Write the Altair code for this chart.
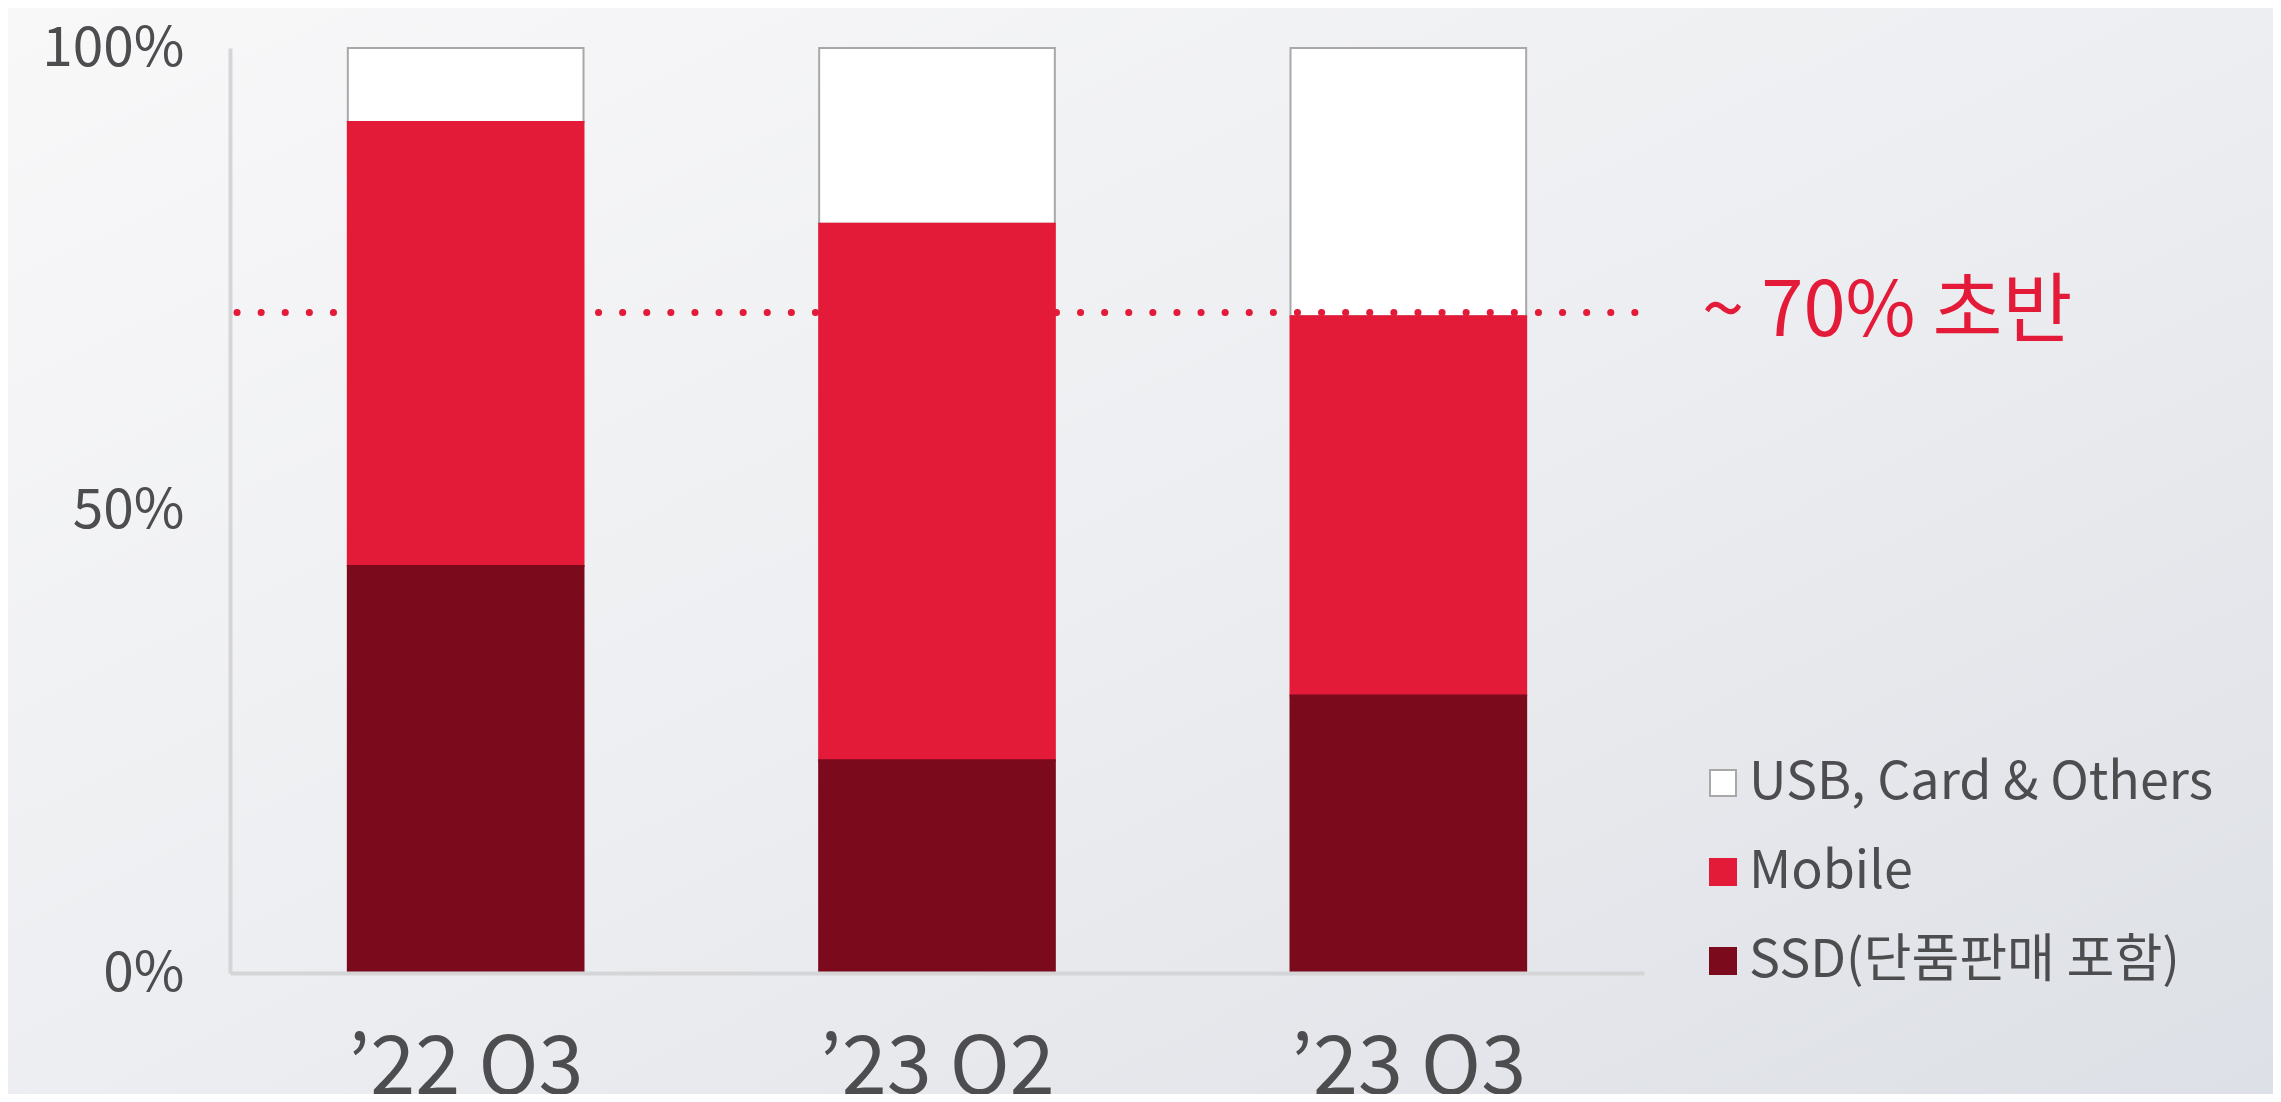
import altair as alt
import pandas as pd

quarters = ["’22 Q3", "’23 Q2", "’23 Q3"]
series = ["USB, Card & Others", "Mobile", "SSD(단품판매 포함)"]
usb = [8, 19, 29]
mobile = [48, 58, 41]
ssd = [44, 23, 30]
stack_rank = {"SSD(단품판매 포함)": 0, "Mobile": 1, "USB, Card & Others": 2}

threshold = [71.4]
annotation = ["~ 70% 초반"]

fills = ["#FFFFFF", "#E31A38", "#7B0B1C"]
strokes = ["#A8A8A8", "#E31A38", "#7B0B1C"]
RED = "#E31A38"
TEXT = "#4D4D50"
FONT = "Noto Sans CJK KR"

W, H = 1414, 925
PAD = {"left": 222, "top": 40, "right": 629, "bottom": 121}

rows = []
for i, q in enumerate(quarters):
    for name, vals in zip(series, [usb, mobile, ssd]):
        rows.append({"quarter": q, "series": name, "share": vals[i], "rank": stack_rank[name]})
df = pd.DataFrame(rows)
thr_df = pd.DataFrame({"y": threshold, "label": annotation})

yscale = alt.Scale(domain=[0, 100], nice=False)

# page background with a soft diagonal gradient
bg = alt.Chart(thr_df).mark_rect(
    fill=alt.LinearGradient(gradient="linear", x1=0, y1=0, x2=1, y2=1,
                            stops=[alt.GradientStop(offset=0, color="#F8F8F9"),
                                   alt.GradientStop(offset=0.5, color="#EDEEF1"),
                                   alt.GradientStop(offset=1, color="#DDE0E6")])
).encode(
    x=alt.value(-PAD["left"]), x2=alt.value(W + PAD["right"]),
    y=alt.value(-PAD["top"]), y2=alt.value(H + PAD["bottom"]),
)

legend_kw = dict(title=None, orient="none", legendX=1467, legendY=709,
                 symbolType="square", symbolSize=676, symbolStrokeWidth=2,
                 labelFontSize=52, labelColor=TEXT, labelOffset=0, labelLimit=0,
                 rowPadding=37, padding=0, labelFont=FONT, zindex=1)

bars = alt.Chart(df).mark_bar(strokeWidth=2).encode(
    x=alt.X("quarter:N", sort=quarters,
            scale=alt.Scale(paddingInner=0.5, paddingOuter=0.25),
            axis=alt.Axis(title=None, labelAngle=0, ticks=False, tickSize=0,
                          labelFontSize=81, labelColor=TEXT, labelPadding=56, labelLimit=0,
                          domainColor="#D5D5D8", domainWidth=4, labelFont=FONT, zindex=1)),
    y=alt.Y("share:Q", stack="zero", scale=yscale,
            axis=alt.Axis(title=None, values=[0, 50, 100], labelExpr="datum.value + '%'",
                          grid=False, ticks=False, tickSize=0, labelFontSize=55,
                          labelColor=TEXT, labelPadding=46, domainColor="#D5D5D8",
                          domainWidth=4, labelFont=FONT, zindex=1)),
    fill=alt.Fill("series:N", scale=alt.Scale(domain=series, range=fills),
                  legend=alt.Legend(**legend_kw)),
    stroke=alt.Stroke("series:N", scale=alt.Scale(domain=series, range=strokes),
                      legend=alt.Legend(**legend_kw)),
    order=alt.Order("rank:Q"),
)

rule = alt.Chart(thr_df).mark_rule(color=RED, strokeWidth=7, strokeDash=[0.1, 24],
                                   strokeCap="round").encode(
    y=alt.Y("y:Q", scale=yscale),
    x=alt.value(7), x2=alt.value(1421),
)

label = alt.Chart(thr_df).mark_text(align="left", baseline="middle", fontSize=76,
                                    color=RED, font=FONT).encode(
    y=alt.Y("y:Q", scale=yscale),
    x=alt.value(1472),
    text="label:N",
)

chart = alt.layer(bg, bars, rule, label).properties(
    width=W, height=H,
    autosize=alt.AutoSizeParams(type="none"),
    padding=PAD,
    background="#EEEFF2",
).configure(font=FONT).configure_view(stroke=None)

chart.save("out.html", embed_options={"renderer": "svg", "actions": False})
